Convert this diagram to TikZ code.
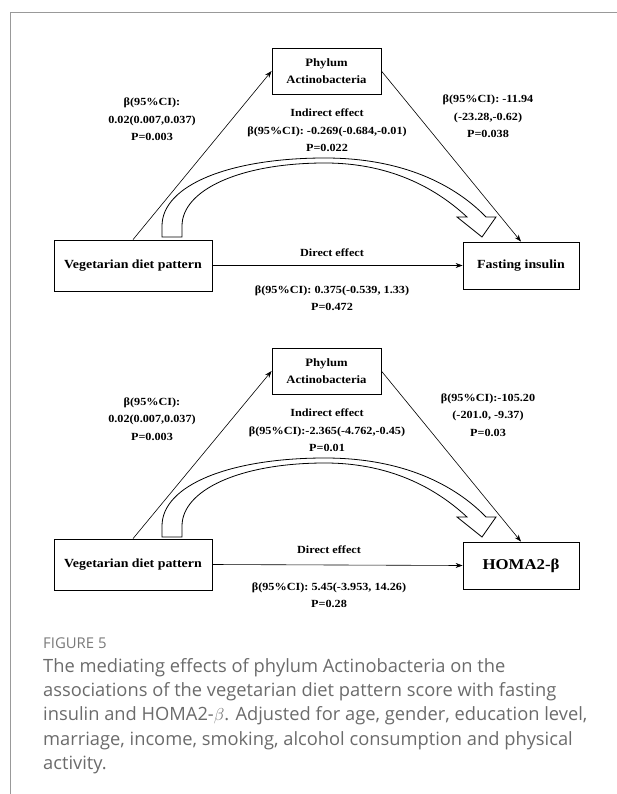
\documentclass[tikz,border=0pt]{standalone}
\usepackage{fontspec}
\setmainfont{Liberation Serif}
\newfontfamily\diagfont[FakeStretch=1.12]{Liberation Serif}
\newfontfamily\capfont{Open Sans}
\usetikzlibrary{arrows.meta,positioning}

\begin{document}
\begin{tikzpicture}[x=1pt,y=-1pt,
  box/.style={draw, line width=0.8pt, align=center, inner sep=0pt,
    font=\diagfont\bfseries\fontsize{12.4}{17.5}\selectfont},
  lbl/.style={align=center, inner sep=0pt, font=\diagfont\bfseries\fontsize{10.9}{17.5}\selectfont},
  link/.style={line width=0.6pt, -{Stealth[length=7pt,width=5pt]}},
  hollow/.style={draw, line width=0.8pt, fill=white, line join=miter}]
  \useasboundingbox (0,0) rectangle (617,794);
  \draw[black!40, line width=1pt] (10,794) -- (10,13) -- (617,13);

  % fasting insulin
  \node[box, minimum width=109pt, minimum height=46pt, font=\diagfont\bfseries\fontsize{11.3}{17.5}\selectfont]
    (phyA) at (326.5,71) {Phylum\\Actinobacteria};
  \node[box, minimum width=158pt, minimum height=51pt] (vegA) at (133,265.5) {Vegetarian diet pattern};
  \node[box, minimum width=116pt, minimum height=47pt] (finA) at (521,265.5) {Fasting insulin};
  \draw[link] (vegA.north) -- (phyA.west);
  \draw[link] (phyA.east) -- (finA.north);
  \draw[link] (vegA.east) -- (finA.west);
  \node[lbl] (aA) at (152,119.5) {β(95\%CI):\\0.02(0.007,0.037)\\P=0.003};
  \node[lbl] (indA) at (327,130.5) {Indirect effect\\β(95\%CI): -0.269(-0.684,-0.01)\\P=0.022};
  \node[lbl] (bA) at (488,116.5) {β(95\%CI): -11.94\\(-23.28,-0.62)\\P=0.038};
  \node[lbl] (dirA) at (332,253) {Direct effect};
  \node[lbl] (cA) at (332,298) {β(95\%CI): 0.375(-0.539, 1.33)\\P=0.472};

  % HOMA2-beta
  \node[box, minimum width=109pt, minimum height=46pt, font=\diagfont\bfseries\fontsize{11.3}{17.5}\selectfont]
    (phyB) at (326.5,371) {Phylum\\Actinobacteria};
  \node[box, minimum width=158pt, minimum height=51pt] (vegB) at (133,564.5) {Vegetarian diet pattern};
  \node[box, minimum width=116pt, minimum height=47pt, font=\diagfont\bfseries\fontsize{15}{17}\selectfont]
    (homB) at (521,565.5) {HOMA2-β};
  \draw[link] (vegB.north) -- (phyB.west);
  \draw[link] (phyB.east) -- (homB.north);
  \draw[link] (vegB.east) -- (homB.west);
  \node[lbl] (aB) at (152,419) {β(95\%CI):\\0.02(0.007,0.037)\\P=0.003};
  \node[lbl] (indB) at (327,430.5) {Indirect effect\\β(95\%CI):-2.365(-4.762,-0.45)\\P=0.01};
  \node[lbl] (bB) at (488,415) {β(95\%CI):-105.20\\(-201.0, -9.37)\\P=0.03};
  \node[lbl] (dirB) at (329,550) {Direct effect};
  \node[lbl] (cB) at (329,595) {β(95\%CI): 5.45(-3.953, 14.26)\\P=0.28};

  \foreach \dy in {0,300}
    \draw[hollow] (162,237+\dy) -- (162,226+\dy)
      .. controls (162,185+\dy) and (230,158+\dy) .. (325,158+\dy)
      .. controls (410,158+\dy) and (460,190+\dy) .. (486,217+\dy)
      -- (496,217+\dy) -- (482,237+\dy) -- (457,217+\dy) -- (467,217+\dy)
      .. controls (440,192+\dy) and (395,163+\dy) .. (325,163+\dy)
      .. controls (240,163+\dy) and (182,190+\dy) .. (182,226+\dy)
      -- (182,237+\dy) -- cycle;

  \node[anchor=west, inner sep=0pt, text=black!52, font=\capfont\fontsize{14.9}{17}\selectfont]
    (figno) at (43,643) {FIGURE 5};
  \node[anchor=north west, inner sep=0pt, align=left, text=black!58,
    font=\capfont\fontsize{18.3}{24.3}\selectfont] (capt) at (43,658)
    {The mediating effects of phylum Actinobacteria on the\\
     associations of the vegetarian diet pattern score with fasting\\
     insulin and HOMA2-$\beta$. Adjusted for age, gender, education level,\\
     marriage, income, smoking, alcohol consumption and physical\\
     activity.};
\end{tikzpicture}
\end{document}
